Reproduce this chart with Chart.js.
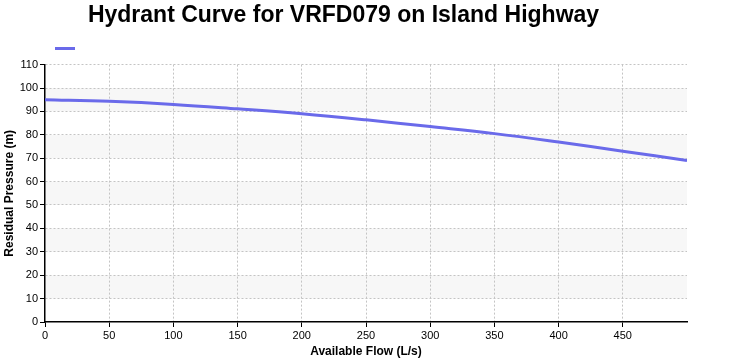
<!DOCTYPE html>
<html>
<head>
<meta charset="utf-8">
<script src="https://cdn.jsdelivr.net/npm/chart.js@4"></script>
<style>
  html, body { margin: 0; padding: 0; background: #fff; }
  #wrap { width: 732px; height: 360px; }
</style>
</head>
<body>
<div id="wrap"><canvas id="hydrantChart"></canvas></div>
<script>
// data
const flowValues = [0, 50, 100, 150, 200, 250, 300, 350, 400, 450, 500];
const pressureValues = [95, 94.3, 93, 91.1, 89, 86.4, 83.5, 80.5, 76.9, 73, 69];
const xTicks = [0, 50, 100, 150, 200, 250, 300, 350, 400, 450];
const yTicks = [0, 10, 20, 30, 40, 50, 60, 70, 80, 90, 100, 110];

const lineColor = "#6a6aea";
const FONT = "Arial, 'Liberation Sans', sans-serif";

// alternating grey bands behind the grid
const bandPlugin = {
  id: "bands",
  beforeDraw(chart) {
    const { ctx, chartArea } = chart;
    const y = chart.scales.y;
    ctx.save();
    ctx.fillStyle = "#f7f7f7";
    for (let i = 1; i < yTicks.length - 1; i += 2) {
      const top = y.getPixelForValue(yTicks[i + 1]);
      const bottom = y.getPixelForValue(yTicks[i]);
      ctx.fillRect(chartArea.left, top, chartArea.right - chartArea.left, bottom - top);
    }
    ctx.restore();
  }
};

// push legend to line up with the plot area
const legendShift = {
  id: "legendShift",
  afterLayout(chart) {
    chart.legend.left = chart.chartArea.left;
  }
};

const ctx = document.getElementById("hydrantChart").getContext("2d");
new Chart(ctx, {
  type: "line",
  data: {
    datasets: [{
      label: "",
      data: flowValues.map((f, i) => ({ x: f, y: pressureValues[i] })),
      borderColor: lineColor,
      backgroundColor: lineColor,
      borderWidth: 3,
      pointRadius: 0,
      tension: 0.4,
      fill: false
    }]
  },
  options: {
    responsive: true,
    maintainAspectRatio: false,
    animation: false,
    layout: { padding: { left: 0, right: 45, top: 0, bottom: 0 } },
    plugins: {
      title: {
        display: true,
        text: "Hydrant Curve for VRFD079 on Island Highway",
        color: "#000",
        font: { family: FONT, size: 23, weight: "bold" },
        padding: { top: 2, bottom: 3 }
      },
      legend: {
        display: true,
        align: "start",
        labels: {
          boxWidth: 20,
          boxHeight: 3,
          padding: 10,
          font: { family: FONT, size: 12 },
          generateLabels(chart) {
            const items = Chart.defaults.plugins.legend.labels.generateLabels(chart);
            items.forEach(it => { it.lineWidth = 0; });
            return items;
          }
        }
      },
      tooltip: { enabled: false }
    },
    scales: {
      x: {
        type: "linear",
        min: 0,
        max: 500,
        afterBuildTicks(scale) { scale.ticks = xTicks.map(v => ({ value: v })); },
        afterFit(scale) { scale.height = 38; },
        ticks: {
          color: "#000",
          font: { family: FONT, size: 11 },
          padding: 2,
          maxRotation: 0
        },
        grid: {
          color: c => (c.tick && c.tick.value === 0) ? "rgba(0,0,0,0)" : "#c4c4c4",
          lineWidth: 1,
          tickColor: "#000",
          tickLength: 5,
          tickBorderDash: [],
          drawTicks: true
        },
        border: { display: true, color: "#000", width: 1.5, dash: [2, 2] },
        title: {
          display: true,
          text: "Available Flow (L/s)",
          color: "#000",
          font: { family: FONT, size: 12, weight: "bold" },
          padding: { top: 0, bottom: 1 }
        }
      },
      y: {
        type: "linear",
        min: 0,
        max: 110,
        afterBuildTicks(scale) { scale.ticks = yTicks.map(v => ({ value: v })); },
        afterFit(scale) { scale.width = 45; },
        ticks: {
          color: "#000",
          font: { family: FONT, size: 11 },
          padding: 2
        },
        grid: {
          color: c => (c.tick && c.tick.value === 0) ? "rgba(0,0,0,0)" : "#c4c4c4",
          lineWidth: 1,
          tickColor: "#000",
          tickLength: 5,
          tickBorderDash: [],
          drawTicks: true
        },
        border: { display: true, color: "#000", width: 1.5, dash: [2, 2] },
        title: {
          display: true,
          text: "Residual Pressure (m)",
          color: "#000",
          font: { family: FONT, size: 12, weight: "bold" },
          padding: { top: 2, bottom: 1 }
        }
      }
    }
  },
  plugins: [bandPlugin, legendShift]
});
</script>
</body>
</html>
